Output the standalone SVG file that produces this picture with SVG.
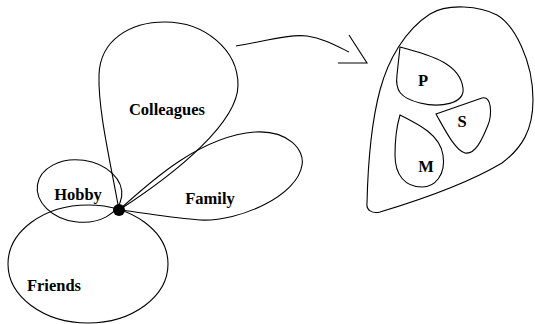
<svg xmlns="http://www.w3.org/2000/svg" width="535" height="324" viewBox="0 0 535 324">
<style>
.s{fill:none;stroke:#000;stroke-width:1.1}
.t{font-family:"Liberation Serif",serif;font-weight:bold;font-size:16.5px;text-anchor:middle;fill:#000}
</style>
<rect width="535" height="324" fill="#fff"/>
<g id="friends"><ellipse class="s" cx="88" cy="264" rx="80" ry="59"/><text class="t" x="54" y="291">Friends</text></g>
<g id="hobby"><ellipse class="s" cx="79.5" cy="191" rx="42.5" ry="31" transform="rotate(8 79.5 191)"/><text class="t" x="78" y="200">Hobby</text></g>
<g id="colleagues"><path class="s" d="M119 210 C110 160 98 110 99 75 C100 40 130 22 165 22 C205 22 238 50 238 85 C238 122 178 172 119 210 Z"/><text class="t" x="167" y="115">Colleagues</text></g>
<g id="family"><path class="s" d="M119 210 C150 182 200 136 255 132 C288 130 305 150 302 165 C298 195 240 222 200 220 C170 218 140 212 119 210 Z"/><text class="t" x="210" y="204">Family</text></g>
<g id="center"><circle cx="119" cy="210" r="6" fill="#000"/></g>
<g id="connectors">
<path class="s" d="M236 46 C265 41 290 34 307 36 C322 38 335 45 349 52"/>
<path class="s" d="M349 35 L367 63 L338 63"/>
</g>
<g id="group"><path class="s" d="M367 203 C368 160 372 120 380 90 C388 60 405 30 430 14 C448 3 480 6 497 15 C514 25 533 60 533 100 C533 130 522 148 502 163 C465 185 420 200 380 212 C372 214 366 210 367 203 Z"/></g>
<g id="p"><path class="s" d="M400 47 C435 56 460 65 463 88 C465 104 440 108 420 103 C400 98 395 90 397 75 L400 47 Z"/><text class="t" x="423" y="86">P</text></g>
<g id="s"><path class="s" d="M436 114 L482 98 C492 95 492 115 488 125 C482 140 475 155 465 153 C455 150 445 130 436 114 Z"/><text class="t" x="462" y="127">S</text></g>
<g id="m"><path class="s" d="M400 115 C420 125 440 135 443 155 C446 175 435 187 422 187 C405 187 395 175 395 155 C395 140 397 125 400 115 Z"/><text class="t" x="426" y="172">M</text></g>
</svg>
